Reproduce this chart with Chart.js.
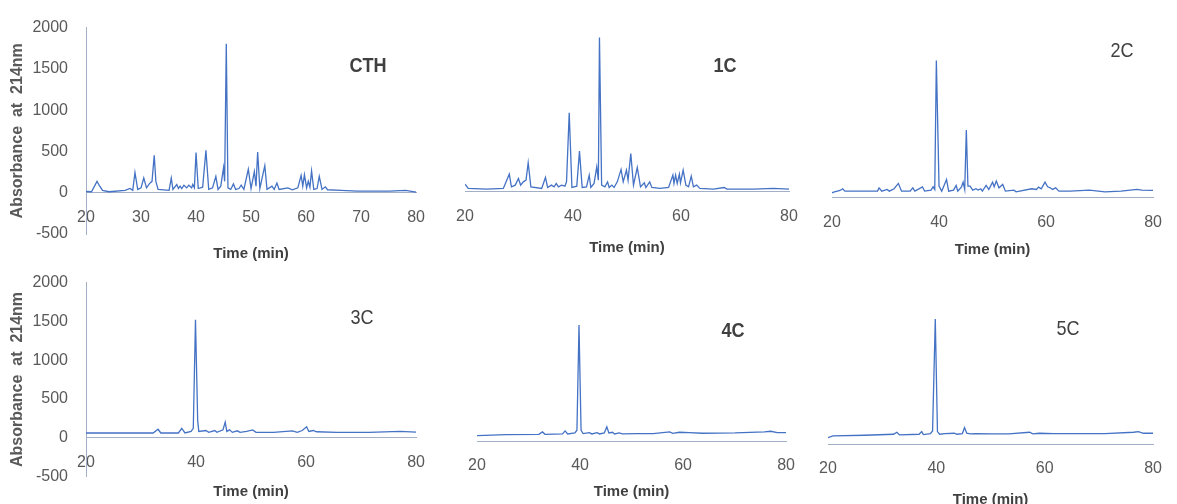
<!DOCTYPE html>
<html>
<head>
<meta charset="utf-8">
<script src="https://cdn.jsdelivr.net/npm/chart.js@4.4.1/dist/chart.umd.min.js"></script>
<style>
  html, body { margin: 0; padding: 0; background: #fff; }
  #wrap { position: relative; width: 1177px; height: 504px; overflow: hidden; }
  canvas { position: absolute; }
  .tag { position: absolute; transform: translate(-50%, -50%) scaleX(0.86); color: #404040;
         font-family: 'Liberation Sans', Arial, sans-serif;
         font-size: 21px; white-space: nowrap; }
  .tag.b { font-weight: bold; }
</style>
</head>
<body>
<div id="wrap">
  <canvas id="cCTH" width="440" height="270" style="left:0;top:0"></canvas>
  <canvas id="c1C" width="380" height="270" style="left:440px;top:0"></canvas>
  <canvas id="c2C" width="377" height="270" style="left:800px;top:0"></canvas>
  <canvas id="c3C" width="440" height="249" style="left:0;top:255px"></canvas>
  <canvas id="c4C" width="370" height="249" style="left:440px;top:255px"></canvas>
  <canvas id="c5C" width="377" height="249" style="left:800px;top:255px"></canvas>
  <div class="tag b" style="left:368px;top:65px">CTH</div>
  <div class="tag b" style="left:725px;top:65px">1C</div>
  <div class="tag" style="left:1122px;top:50px">2C</div>
  <div class="tag" style="left:362px;top:317px">3C</div>
  <div class="tag b" style="left:733px;top:330px">4C</div>
  <div class="tag" style="left:1068px;top:328px">5C</div>
</div>
<script>
// ---- data (time in min, absorbance at 214 nm) ----
const ctTime = [20.0, 21.0, 22.0, 22.5, 23.0, 24.2, 27.1, 28.0, 28.5, 28.9,
  29.4, 30.0, 30.5, 31.0, 31.5, 32.0, 32.4, 32.7, 33.1, 35.1,
  35.5, 35.8, 36.5, 36.8, 37.1, 37.4, 37.8, 38.3, 38.7, 39.2,
  39.4, 39.7, 40.0, 40.4, 41.2, 41.8, 42.3, 43.0, 43.6, 44.0,
  44.5, 45.0, 45.2, 45.5, 45.8, 46.3, 46.8, 47.2, 47.8, 48.2,
  48.7, 49.5, 50.0, 50.6, 50.9, 51.2, 51.6, 52.5, 52.9, 53.8,
  54.2, 54.7, 55.1, 56.7, 57.5, 58.5, 59.1, 59.4, 59.7, 60.1,
  60.4, 60.7, 61.0, 61.4, 62.0, 62.4, 62.9, 63.5, 63.9, 66.4,
  69.3, 75.2, 78.1, 80.0];
const ctAbs = [15, 12, 138, 79, 28, 12, 28, 51, 28, 245,
  40, 59, 178, 59, 107, 138, 454, 138, 40, 28,
  178, 40, 99, 51, 79, 51, 91, 59, 91, 59,
  99, 59, 486, 51, 67, 513, 40, 59, 198, 40,
  79, 304, 138, 1805, 59, 40, 107, 40, 51, 91,
  40, 284, 51, 257, 79, 494, 51, 328, 40, 79,
  40, 118, 40, 59, 36, 59, 209, 79, 217, 59,
  138, 67, 265, 40, 51, 198, 40, 71, 36, 28,
  20, 20, 28, 8];

const c1Time = [20.0, 20.6, 24.0, 27.1, 28.2, 28.6, 29.3, 29.9, 30.3, 30.8,
  31.3, 31.7, 32.2, 34.2, 34.9, 35.3, 36.0, 36.5, 36.9, 37.3,
  37.9, 38.5, 38.8, 39.3, 39.8, 40.7, 41.2, 41.7, 42.5, 43.0,
  43.3, 43.9, 44.4, 44.7, 44.9, 45.3, 45.9, 46.4, 46.7, 47.2,
  47.6, 48.2, 48.9, 49.3, 49.9, 50.2, 50.7, 51.2, 51.9, 52.5,
  53.2, 53.5, 54.2, 54.6, 56.1, 57.7, 58.5, 58.7, 59.0, 59.3,
  59.7, 59.9, 60.4, 60.9, 61.4, 61.9, 62.3, 62.9, 63.5, 66.0,
  68.0, 68.5, 73.4, 77.1, 80.0];
const c1Abs = [91, 40, 32, 40, 209, 59, 79, 158, 79, 118,
  138, 344, 59, 40, 170, 51, 79, 59, 99, 59,
  79, 67, 118, 936, 51, 67, 482, 51, 59, 198,
  51, 99, 296, 138, 1829, 79, 59, 118, 51, 79,
  51, 118, 265, 118, 257, 138, 454, 79, 288, 59,
  107, 51, 118, 51, 40, 51, 198, 99, 198, 99,
  209, 107, 257, 79, 59, 186, 59, 79, 40, 32,
  51, 32, 32, 40, 32];

const c2Time = [20.0, 20.3, 21.5, 22.0, 22.4, 28.5, 28.8, 29.3, 30.3, 30.7,
  31.6, 32.4, 33.0, 34.6, 35.1, 35.5, 36.9, 37.3, 38.5, 38.9,
  39.2, 39.5, 40.0, 40.5, 41.4, 41.8, 42.7, 43.2, 43.5, 44.2,
  44.5, 44.8, 45.1, 45.4, 45.8, 46.3, 46.9, 47.3, 47.8, 48.1,
  48.8, 49.3, 50.0, 50.3, 50.7, 51.2, 51.9, 52.4, 54.0, 54.4,
  57.3, 58.2, 58.6, 59.1, 59.8, 60.3, 60.8, 61.2, 61.8, 62.4,
  64.5, 68.1, 71.0, 74.0, 77.0, 77.9, 80.0];
const c2Abs = [59, 67, 87, 107, 79, 79, 118, 79, 99, 79,
  107, 170, 79, 79, 118, 79, 130, 79, 91, 130,
  99, 1627, 138, 79, 217, 79, 91, 146, 79, 130,
  186, 99, 802, 138, 138, 91, 107, 91, 107, 79,
  146, 99, 186, 130, 198, 118, 158, 79, 91, 71,
  107, 99, 126, 107, 186, 130, 118, 99, 118, 79,
  79, 91, 71, 79, 99, 91, 87];

const c3Time = [20.0, 32.2, 33.1, 33.6, 36.8, 37.4, 38.0, 39.1, 39.5, 39.9,
  40.3, 40.5, 41.8, 42.3, 43.4, 43.8, 44.9, 45.3, 45.6, 46.1,
  46.6, 47.5, 48.0, 49.2, 50.3, 50.9, 54.1, 57.5, 58.4, 59.3,
  60.1, 60.5, 61.3, 61.9, 65.6, 71.4, 77.1, 80.0];
const c3Abs = [60, 60, 108, 60, 60, 120, 60, 80, 120, 1520,
  220, 80, 92, 68, 92, 68, 100, 200, 80, 100,
  68, 88, 68, 80, 100, 68, 68, 88, 68, 92,
  140, 80, 92, 76, 68, 68, 80, 72];

const c4Time = [20.0, 25.7, 32.0, 32.7, 33.2, 36.6, 37.1, 37.6, 39.0, 39.4,
  39.8, 40.2, 40.6, 41.8, 42.3, 43.3, 43.8, 44.7, 45.2, 45.6,
  46.3, 46.7, 47.6, 48.2, 51.1, 54.2, 57.4, 58.0, 59.3, 61.2,
  63.7, 70.1, 75.8, 77.0, 78.3, 80.0];
const c4Abs = [64, 76, 80, 108, 80, 84, 120, 84, 96, 128,
  1380, 128, 88, 100, 84, 100, 84, 96, 168, 96,
  104, 84, 96, 84, 88, 88, 108, 92, 104, 100,
  92, 96, 108, 116, 100, 100];

const c5Time = [20.0, 20.9, 26.8, 32.1, 32.7, 33.2, 36.8, 37.3, 37.6, 38.9,
  39.3, 39.8, 40.2, 40.6, 41.6, 43.3, 43.8, 44.8, 45.2, 45.6,
  46.3, 47.2, 50.4, 53.4, 57.2, 57.8, 59.0, 61.7, 65.2, 71.1,
  76.4, 77.3, 78.2, 80.0];
const c5Abs = [76, 96, 104, 116, 140, 108, 116, 148, 112, 124,
  156, 1488, 148, 116, 124, 128, 116, 124, 196, 128,
  120, 124, 120, 120, 140, 120, 128, 124, 124, 124,
  140, 148, 128, 128];

const yMin = -500, yMax = 2000, yStep = 500;
const yTitle = 'Absorbance  at  214nm';
const xTitle = 'Time (min)';

// ---- styling ----
const FONT = "'Liberation Sans', Arial, sans-serif";
const LINE = '#4472C4';
const AXIS = '#A3AFC6';
const TICK = '#595959';

function makePanel(id, times, vals, o) {
  const pts = times.map((t, i) => ({ x: t, y: vals[i] }));
  return new Chart(document.getElementById(id), {
    type: 'line',
    data: { datasets: [{ data: pts, borderColor: LINE, borderWidth: 1.3, pointRadius: 0, fill: false, tension: 0 }] },
    options: {
      responsive: false,
      animation: false,
      events: [],
      layout: { padding: o.pad },
      plugins: { legend: { display: false }, tooltip: { enabled: false } },
      scales: {
        x: {
          type: 'linear', min: 20, max: 80,
          position: { y: 0 },
          grid: { display: false, drawTicks: false, tickLength: 0 },
          border: { display: true, color: AXIS, width: 1 },
          ticks: { stepSize: o.xStep, padding: 15, color: TICK, font: { family: FONT, size: 16 },
                   callback: v => String(v) },
          title: { display: true, text: xTitle, color: '#404040', padding: { top: o.titleGap, bottom: 0 },
                   font: { family: FONT, size: 15, weight: 'bold' } }
        },
        y: {
          min: yMin, max: yMax,
          display: o.showY,
          grid: { display: false, drawTicks: false, tickLength: 0 },
          border: { display: true, color: AXIS, width: 1 },
          ticks: { stepSize: yStep, padding: 18, color: TICK, font: { family: FONT, size: 16 },
                   callback: v => String(v) },
          title: { display: true, text: yTitle, color: TICK, padding: { top: 8, bottom: 0 },
                   font: { family: FONT, size: 16, weight: 'bold' } },
          afterFit: o.showY ? (s => { s.width = 86; }) : undefined
        }
      }
    }
  });
}

makePanel('cCTH', ctTime, ctAbs, { pad: { left: 0, right: 13, top: 23, bottom: 36 }, xStep: 10, showY: true, titleGap: 3 });
makePanel('c1C', c1Time, c1Abs, { pad: { left: 25, right: 31, top: 23, bottom: 36 }, xStep: 20, showY: false, titleGap: -2 });
makePanel('c2C', c2Time, c2Abs, { pad: { left: 32, right: 10, top: 29, bottom: 30 }, xStep: 20, showY: false, titleGap: -6 });
makePanel('c3C', c3Time, c3Abs, { pad: { left: 0, right: 7, top: 17, bottom: 22 }, xStep: 20, showY: true, titleGap: -4 });
makePanel('c4C', c4Time, c4Abs, { pad: { left: 37, right: 18, top: 18, bottom: 21 }, xStep: 20, showY: false, titleGap: -7 });
makePanel('c5C', c5Time, c5Abs, { pad: { left: 28, right: 10, top: 21, bottom: 18 }, xStep: 20, showY: false, titleGap: -2 });
</script>
</body>
</html>
